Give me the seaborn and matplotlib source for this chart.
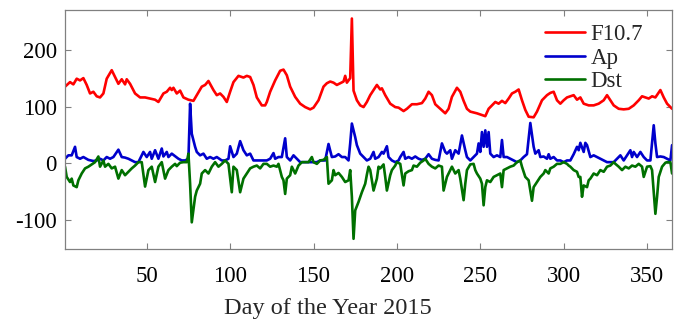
import numpy as np
import pandas as pd
import matplotlib
matplotlib.use("Agg")
import matplotlib.pyplot as plt
import seaborn as sns

# ---- data ----
f107_days = [1, 4, 6, 8, 10, 12, 14, 16, 18, 20, 22, 24, 26, 29, 31, 33, 35, 37, 38, 40,
             43, 46, 49, 52, 55, 57, 60, 62, 64, 65, 66, 68, 70, 72, 75, 78, 80, 83, 85, 87,
             90, 92, 94, 96, 98, 100, 102, 105, 108, 110, 112, 114, 116, 119, 121, 122, 124,
             127, 130, 132, 134, 136, 139, 142, 145, 148, 150, 153, 156, 158, 160, 162, 164,
             166, 168, 169, 170, 171, 172, 173, 174, 176, 178, 180, 182, 184, 186, 188, 190,
             191, 193, 196, 199, 201, 204, 206, 209, 212, 215, 217, 219, 221, 223, 226, 229,
             231, 233, 236, 238, 240, 242, 244, 248, 251, 253, 255, 257, 259, 261, 263, 265,
             267, 269, 271, 273, 275, 277, 279, 282, 284, 287, 290, 292, 294, 296, 298, 300,
             302, 304, 306, 308, 310, 312, 315, 318, 321, 324, 326, 328, 330, 333, 336, 339,
             342, 345, 347, 349, 351, 353, 355, 358, 360, 362, 365]
f107_vals = [135, 143, 139, 149, 146, 150, 138, 123, 126, 118, 116, 123, 149, 164, 152, 140, 148, 139, 148, 140,
             123, 116, 116, 114, 112, 108, 123, 126, 133, 129, 133, 123, 128, 116, 112, 110, 120, 135, 138, 145,
             129, 120, 123, 117, 108, 126, 143, 154, 151, 154, 152, 138, 116, 102, 102, 108, 126,
             146, 163, 165, 155, 135, 117, 105, 99, 95, 98, 111, 135, 141, 144, 142, 138,
             141, 144, 154, 142, 146, 150, 255, 128, 111, 102, 99, 108, 120, 129, 138, 130,
             132, 120, 105, 99, 98, 92, 96, 104, 104, 106, 114, 126, 120, 104, 96, 88,
             96, 117, 133, 126, 110, 96, 91, 88, 85, 83, 96, 102, 108, 105, 110, 106,
             114, 123, 126, 130, 111, 94, 82, 81, 91, 111, 120, 124, 126, 111, 105, 111,
             116, 118, 120, 112, 116, 105, 102, 102, 105, 111, 120, 111, 102, 96, 95, 96,
             102, 111, 118, 116, 114, 118, 116, 129, 116, 105, 96]

ap_days = [1, 3, 5, 7, 8, 10, 12, 15, 18, 20, 22, 24, 26, 28, 30, 33, 35, 37, 39, 41,
           43, 45, 48, 50, 52, 53, 55, 57, 59, 60, 62, 63, 65, 69, 71, 73, 75, 76, 77, 79,
           80, 82, 84, 86, 88, 90, 92, 95, 97, 99, 100, 102, 104, 106, 108, 110, 112, 114,
           116, 118, 120, 122, 124, 126, 127, 129, 131, 133, 134, 136, 138, 140, 142, 144,
           146, 148, 150, 152, 154, 157, 159, 161, 163, 165, 167, 169, 171, 172, 173, 175,
           176, 178, 180, 182, 184, 186, 187, 189, 191, 192, 194, 195, 197, 199, 201, 202,
           204, 205, 207, 209, 211, 213, 215, 217, 219, 221, 223, 225, 227, 229, 230, 232,
           233, 235, 237, 239, 241, 242, 244, 246, 248, 249, 250, 251, 252, 253, 254, 255,
           256, 258, 260, 262, 263, 264, 266, 268, 270, 272, 274, 276, 278, 280, 282, 283,
           285, 286, 288, 290, 291, 292, 294, 296, 298, 300, 302, 304, 306, 308, 309, 310,
           312, 313, 314, 316, 318, 320, 322, 324, 326, 328, 330, 332, 334, 336, 338, 340,
           341, 342, 344, 346, 348, 350, 352, 354, 355, 356, 358, 360, 362, 364, 365]
ap_vals = [8, 14, 14, 29, 11, 8, 11, 6, 4, 5, 8, 5, 11, 8, 11, 24, 11, 10, 8, 5,
           2, 2, 20, 11, 20, 8, 23, 8, 26, 12, 20, 11, 17, 8, 5, 5, 8, 105, 52, 29,
           20, 14, 17, 8, 11, 8, 11, 5, 5, 8, 30, 11, 17, 39, 23, 14, 17, 5,
           5, 5, 5, 5, 8, 18, 8, 11, 11, 44, 11, 5, 14, 8, 2, 2,
           2, 2, 2, 2, 5, 5, 34, 11, 12, 16, 11, 11, 5, 35, 70, 46,
           32, 17, 11, 5, 8, 20, 8, 11, 20, 17, 30, 11, 5, 2, 5, 11,
           20, 8, 11, 8, 12, 8, 6, 8, 16, 8, 6, 5, 35, 20, 17, 23,
           8, 23, 17, 49, 23, 11, 5, 11, 17, 35, 20, 55, 29, 58, 29, 55,
           17, 11, 14, 11, 41, 11, 11, 8, 5, 2, 5, 11, 16, 71, 29, 17,
           23, 11, 12, 8, 16, 8, 11, 5, 5, 2, 5, 5, 16, 29, 23, 36,
           20, 36, 32, 11, 14, 11, 8, 5, 2, 2, 2, 8, 14, 5, 14, 23,
           11, 20, 11, 20, 11, 5, 5, 67, 35, 11, 12, 11, 8, 5, 32]

dst_days = [1, 2, 4, 5, 6, 8, 9, 11, 13, 15, 17, 19, 21, 22, 24, 25, 27, 29, 31, 33,
            35, 37, 39, 41, 43, 45, 47, 49, 51, 53, 55, 57, 59, 61, 63, 65, 67, 68, 70, 72,
            74, 75, 76, 77, 79, 80, 82, 83, 85, 87, 89, 91, 93, 95, 97, 99, 101, 102, 104,
            106, 108, 110, 112, 114, 116, 118, 120, 122, 124, 126, 128, 129, 131, 132, 133,
            134, 136, 137, 139, 141, 143, 145, 147, 149, 150, 152, 154, 156, 158, 159, 161,
            162, 163, 165, 167, 169, 171, 172, 173, 174, 175, 177, 179, 181, 182, 183, 184,
            186, 188, 189, 190, 192, 193, 194, 196, 197, 199, 200, 202, 204, 205, 207, 209,
            210, 212, 214, 216, 217, 219, 221, 223, 225, 227, 228, 230, 232, 233, 235, 237,
            238, 240, 241, 242, 244, 246, 247, 248, 250, 251, 252, 253, 254, 256, 258, 260,
            262, 263, 264, 266, 268, 270, 272, 274, 275, 277, 279, 281, 282, 284, 286, 288,
            289, 291, 292, 294, 296, 298, 300, 302, 303, 304, 306, 308, 309, 310, 311, 312,
            314, 315, 316, 318, 320, 322, 324, 326, 328, 330, 331, 333, 335, 337, 339, 341,
            343, 345, 347, 348, 350, 352, 353, 355, 356, 357, 359, 361, 362, 364, 365]
dst_vals = [-6, -24, -33, -27, -39, -42, -30, -18, -9, -6, -2, 2, 12, -6, 5, -6, -1, -9, -6, -27,
            -12, -21, -15, -9, -4, 2, 2, -41, -12, -6, -33, -6, 2, -27, -12, -6, -1, -5, 1, 2,
            2, 17, -36, -104, -59, -48, -36, -18, -12, -18, -6, 2, -6, -1, 5, -1, -51, -6, -12,
            -51, -27, -18, -9, -6, -4, -9, -1, -1, -6, -4, -6, -1, -24, -30, -54,
            -27, -21, -6, -18, -4, 2, 2, 2, 11, 2, -1, 5, 6, 11, -36, -30,
            -12, -21, -17, -24, -33, -30, -12, -59, -133, -83, -68, -51, -36, -20, -6, -12,
            -48, -27, -6, -9, -2, -24, -48, -21, -12, -4, 2, -1, -39, -18, -14, -12,
            -4, -6, 1, 5, 8, -1, -6, -9, -4, -6, -48, -24, -12, -6, -18, -12,
            -27, -65, -36, -12, -2, -1, -12, -18, -27, -36, -74, -42, -30, -33, -24, -21,
            -18, -42, -12, -9, -6, -4, 2, 5, -6, -24, -30, -66, -42, -33, -24, -18,
            -12, -18, -9, -6, -1, -1, 2, -1, -4, -6, -12, -15, -24, -24, -59, -39,
            -42, -30, -27, -18, -21, -12, -15, -6, -4, 2, -1, -6, -12, -6, -9, -4,
            -6, -1, -6, -24, -6, -5, -12, -89, -59, -24, -6, 1, 2, 2, -18]

series_names = ["F10.7", "Ap", "Dst"]
series_colors = ["#ff0000", "#0000cc", "#007000"]
x_ticks = [50, 100, 150, 200, 250, 300, 350]
y_ticks = [-100, 0, 100, 200]
x_label = "Day of the Year 2015"

df = pd.concat([
    pd.DataFrame({"day": f107_days, "value": f107_vals, "series": "F10.7"}),
    pd.DataFrame({"day": ap_days, "value": ap_vals, "series": "Ap"}),
    pd.DataFrame({"day": dst_days, "value": dst_vals, "series": "Dst"}),
], ignore_index=True)

sns.set_style("ticks")
plt.rcParams["font.family"] = ["Liberation Serif", "DejaVu Serif"]
plt.rcParams["axes.unicode_minus"] = False
plt.rcParams["font.size"] = 16.5

fig = plt.figure(figsize=(6.83, 3.27), dpi=100)
ax = fig.add_axes([0.0952, 0.2385, 0.8888, 0.7309])

sns.lineplot(data=df, x="day", y="value", hue="series", hue_order=series_names,
             palette=dict(zip(series_names, series_colors)), estimator=None,
             linewidth=1.9, ax=ax)

ax.set_xlim(1, 365)
ax.set_ylim(-151, 270)
ax.set_xticks(x_ticks)
ax.set_yticks(y_ticks)
ax.set_xlabel(x_label, fontsize=17.5)
ax.xaxis.set_label_coords(0.433, -0.205)
ax.set_ylabel("")
ax.tick_params(direction="in", top=True, right=True, length=4, width=0.8,
               color="#808080", labelsize=16.5, labelcolor="black")
ax.tick_params(axis="x", pad=12)
ax.tick_params(axis="y", pad=6)
for sp in ax.spines.values():
    sp.set_color("#808080")
    sp.set_linewidth(0.9)

leg = ax.legend(loc="upper right", frameon=False, fontsize=16.5, handlelength=1.75,
                handletextpad=0.25, labelspacing=0.12, borderaxespad=0.2,
                bbox_to_anchor=(0.975, 1.0))
for line in leg.get_lines():
    line.set_linewidth(1.9)

fig.savefig("out.png", dpi=100)
